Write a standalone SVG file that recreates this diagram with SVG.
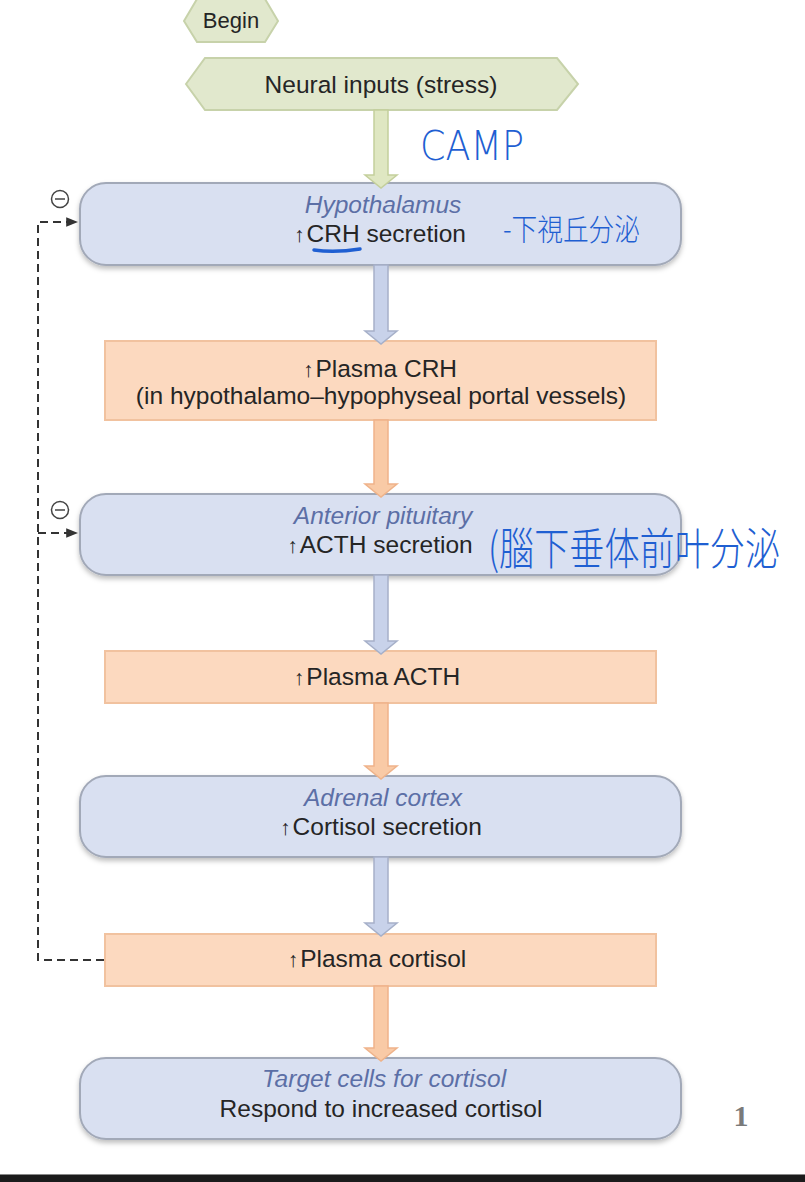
<svg xmlns="http://www.w3.org/2000/svg" width="805" height="1182" viewBox="0 0 805 1182">
<style>
.t{font-family:"Liberation Sans",Arial,sans-serif;font-size:24.5px;fill:#252525;text-anchor:middle}
.ti{font-family:"Liberation Sans",Arial,sans-serif;font-size:24.5px;fill:#5c6fa6;font-style:italic;text-anchor:middle}
.ar{font-size:21px;font-weight:300}
.hex{fill:#e1e8cd;stroke:#c7d2aa;stroke-width:2}
.bb{fill:#d9e0f1;stroke:#a2a9b8;stroke-width:2}
.ob{fill:#fcd9bf;stroke:#f1c29f;stroke-width:2}
.ag{fill:#dfe7c2;stroke:#c4cf9c;stroke-width:1.5}
.ab{fill:#c8d2ea;stroke:#a6b0c9;stroke-width:1.5}
.ao{fill:#f9caa6;stroke:#efb38a;stroke-width:1.5}
.dash{fill:none;stroke:#333;stroke-width:2;stroke-dasharray:8 5}
.hand{font-family:"Noto Sans CJK SC","DejaVu Sans",sans-serif;fill:#1f5fd2;font-weight:300}
</style>
<defs>
<filter id="sh" x="-5%" y="-10%" width="110%" height="130%">
<feDropShadow dx="0" dy="3" stdDeviation="2.5" flood-color="#000" flood-opacity="0.25"/>
</filter>
<marker id="ah" viewBox="0 0 10 10" refX="9" refY="5" markerWidth="6" markerHeight="6" orient="auto">
<path d="M0,1 L10,5 L0,9 z" fill="#333"/>
</marker>
</defs>
<rect width="805" height="1182" fill="#fff"/>

<g id="begin">
<polygon class="hex" points="184,21 197,-1 265,-1 278,21 265,42 197,42"/>
<text class="t" x="231" y="28" style="font-size:22px">Begin</text>
</g>

<g id="neural">
<polygon class="hex" points="186,84 205,58 557,58 578,84 557,110 205,110"/>
<text class="t" x="381" y="93">Neural inputs (stress)</text>
</g>

<g id="hypothalamus">
<rect class="bb" x="80" y="183" width="601" height="82" rx="26" filter="url(#sh)"/>
<text class="ti" x="383" y="213">Hypothalamus</text>
<text class="t" x="380" y="242"><tspan class="ar">↑</tspan><tspan dx="2">CRH secretion</tspan></text>
</g>

<g id="plasma-crh">
<rect class="ob" x="105" y="341" width="551" height="79"/>
<text class="t" x="380" y="377"><tspan class="ar">↑</tspan><tspan dx="2">Plasma CRH</tspan></text>
<text class="t" x="381" y="404">(in hypothalamo–hypophyseal portal vessels)</text>
</g>

<g id="anterior-pituitary">
<rect class="bb" x="80" y="494" width="601" height="81" rx="26" filter="url(#sh)"/>
<text class="ti" x="383" y="524">Anterior pituitary</text>
<text class="t" x="380" y="553"><tspan class="ar">↑</tspan><tspan dx="2">ACTH secretion</tspan></text>
</g>

<g id="plasma-acth">
<rect class="ob" x="105" y="651" width="551" height="52"/>
<text class="t" x="377" y="685"><tspan class="ar">↑</tspan><tspan dx="2">Plasma ACTH</tspan></text>
</g>

<g id="adrenal-cortex">
<rect class="bb" x="80" y="776" width="601" height="81" rx="26" filter="url(#sh)"/>
<text class="ti" x="383" y="806">Adrenal cortex</text>
<text class="t" x="381" y="835"><tspan class="ar">↑</tspan><tspan dx="2">Cortisol secretion</tspan></text>
</g>

<g id="plasma-cortisol">
<rect class="ob" x="105" y="934" width="551" height="52"/>
<text class="t" x="377" y="967"><tspan class="ar">↑</tspan><tspan dx="2">Plasma cortisol</tspan></text>
</g>

<g id="target-cells">
<rect class="bb" x="80" y="1058" width="601" height="81" rx="26" filter="url(#sh)"/>
<text class="ti" x="384" y="1087">Target cells for cortisol</text>
<text class="t" x="381" y="1117">Respond to increased cortisol</text>
</g>

<g id="connectors">
<polygon class="ag" points="374,110 388,110 388,175 397,175 381,188 365,175 374,175"/>
<polygon class="ab" points="374,265 388,265 388,331 397,331 381,344 365,331 374,331"/>
<polygon class="ao" points="374,420 388,420 388,484 397,484 381,497 365,484 374,484"/>
<polygon class="ab" points="374,575 388,575 388,641 397,641 381,654 365,641 374,641"/>
<polygon class="ao" points="374,703 388,703 388,766 397,766 381,779 365,766 374,766"/>
<polygon class="ab" points="374,857 388,857 388,923 397,923 381,936 365,923 374,923"/>
<polygon class="ao" points="374,986 388,986 388,1048 397,1048 381,1061 365,1048 374,1048"/>
<path class="dash" d="M104,960 H38 V222 H77" marker-end="url(#ah)"/>
<path class="dash" d="M38,533 H77" marker-end="url(#ah)"/>
<g fill="none" stroke="#444" stroke-width="1.5">
<circle cx="60" cy="199" r="8.5"/>
<line x1="55" y1="199" x2="65" y2="199"/>
<circle cx="60" cy="510" r="8.5"/>
<line x1="55" y1="510" x2="65" y2="510"/>
</g>
</g>

<g id="annotations">
<text class="hand" x="420" y="160" font-size="40" textLength="104" lengthAdjust="spacingAndGlyphs" style="font-family:'DejaVu Sans',sans-serif;font-weight:200">CAMP</text>
<text class="hand" x="503" y="240" font-size="30" textLength="137" lengthAdjust="spacingAndGlyphs">-下視丘分泌</text>
<text class="hand" x="488" y="565" font-size="44" textLength="292" lengthAdjust="spacingAndGlyphs">(腦下垂体前叶分泌</text>
<path d="M314,250 Q335,253 360,249" fill="none" stroke="#1f5fd2" stroke-width="3.5" stroke-linecap="round"/>
</g>

<text x="741" y="1126" font-family="'Liberation Serif',serif" font-size="30" font-weight="bold" fill="#7a7a7a" text-anchor="middle">1</text>
<rect x="0" y="1175" width="805" height="7" fill="#1b1b1b"/>
<line x1="0" y1="1174.5" x2="805" y2="1174.5" stroke="#888" stroke-width="1"/>
</svg>
